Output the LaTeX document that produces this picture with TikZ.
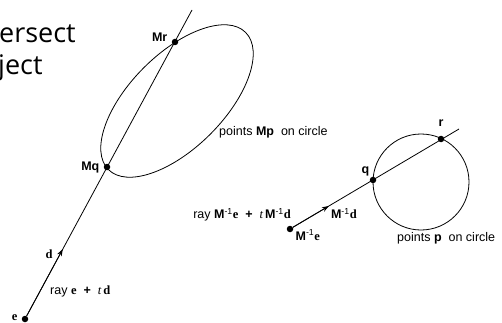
\documentclass[tikz,border=0pt]{standalone}
\usepackage{fontspec}
\setmainfont{Liberation Sans}
\newfontfamily\tms{Liberation Serif}
\newfontfamily\slidefont{Open Sans}
\usepackage{tikz}
\usetikzlibrary{arrows.meta, positioning, calc}

\newcommand{\vb}[1]{{\tms\bfseries #1}}
\newcommand{\Minv}{\textbf{M}\textsuperscript{-1}}

\begin{document}
\begin{tikzpicture}[
    x=1pt, y=-1pt,
    dot/.style={circle, fill=black, inner sep=0pt, minimum size=6.5pt},
    lbl/.style={inner sep=1pt, font=\fontsize{12.5}{14}\selectfont},
    bold/.style={lbl, font=\fontsize{12.5}{14}\selectfont\bfseries},
    curve/.style={line width=0.8pt},
    arrow/.style={-{Stealth[length=7pt, width=5pt]}, line width=0.8pt},
    title/.style={inner sep=0pt, anchor=base west, font=\slidefont\fontsize{27}{30}\selectfont}
]
\useasboundingbox (0,0) rectangle (502,323);

% slide title, cut at the left edge
\node[title] (tline1) at (-1,43) {ersect};
\node[title] (tline2) at (-2,75) {ject};

% transformed object: ellipse
\coordinate (ec) at (177,101);
\draw[curve, rotate around={45:(ec)}] (ec) ellipse [x radius=97, y radius=47];

\node[dot] (e) at (25,319) {};
\node[dot] (Mq) at (107,167) {};
\node[dot] (Mr) at (175,42) {};
\coordinate (top) at (192,10);
\coordinate (dtip) at ($(e)!0.226!(top)$);

\draw[curve] (e) -- (top);
\draw[arrow] (e) -- (dtip);

\node[lbl, left=3pt of e, yshift=1pt] (elbl) {\vb{e}};
\node[lbl, left=9pt of dtip, yshift=-5pt] (dlbl) {\vb{d}};
\node[bold, left=3pt of Mq] (Mqlbl) {Mq};
\node[bold, left=3pt of Mr, yshift=5pt] (Mrlbl) {Mr};
\node[lbl, anchor=west] (raylbl) at (49,291)
    {ray \vb{e}\ \ \textbf{+}\ \ {\tms\itshape t}\,\vb{d}};
\node[lbl, anchor=west] (ellbl) at (218,132) {points \textbf{Mp}\ \ on circle};

% untransformed object: unit circle
\coordinate (cc) at (421,182);
\draw[curve] (cc) circle [radius=48];

\node[dot] (Me) at (290,229) {};
\node[dot] (q) at (373,180) {};
\node[dot] (r) at (441,139) {};
\coordinate (end) at (459,129);
\coordinate (Mdtip) at ($(Me)!0.23!(end)$);

\draw[curve] (Me) -- (end);
\draw[arrow] (Me) -- (Mdtip);

\node[bold, left=-1pt of q, yshift=9pt] (qlbl) {q};
\node[bold, above=8pt of r] (rlbl) {r};
\node[lbl, below right=1pt and 1pt of Mdtip] (Mdlbl) {\Minv\vb{d}};
\node[lbl, below right=-3pt and 2pt of Me] (Melbl) {\Minv\vb{e}};
\node[lbl, anchor=east] (Mraylbl) at (292,215)
    {ray \Minv\vb{e}\ \ \textbf{+}\ \ {\tms\itshape t}\,\Minv\vb{d}};
\node[lbl, anchor=west] (cirlbl) at (396,238) {points \textbf{p}\ \ on circle};

\end{tikzpicture}
\end{document}
